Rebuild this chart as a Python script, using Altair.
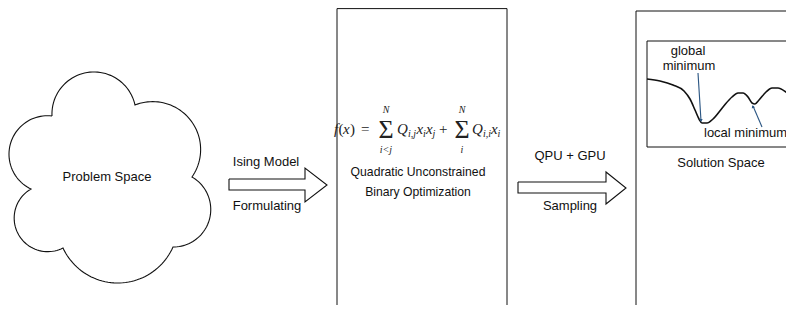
import altair as alt
import numpy as np
import pandas as pd

# ---------------- content (text) ----------------
cloud_label = ["Problem Space"]
arrow_top_labels = ["Ising Model", "QPU + GPU"]
arrow_bottom_labels = ["Formulating", "Sampling"]
box_labels = ["Quadratic Unconstrained", "Binary Optimization", "Solution Space"]
minima_labels = ["global", "minimum", "local minimum"]

# energy landscape curve inside "Solution Space" (pixel coords)
curve_x = [647, 660, 673, 684, 690, 695, 699, 702, 707, 713, 723, 732, 738, 743, 748, 752, 755, 759, 766, 772, 778, 786, 794, 802]
curve_y = [79, 81, 85, 91, 99, 110, 119, 123, 123, 119, 107, 97, 93, 93, 97, 103, 104, 100, 92, 88, 88, 92, 98, 104]

# ---------------- layout (reference pixel coordinates) ----------------
X0, X1, Y0, Y1 = 8, 786, 8, 305
W, H = X1 - X0, Y1 - Y0

# cloud: lobes between notches, each passing through an outer point
cloud_notches = [(52, 116), (135, 105), (192, 177), (173, 247), (63, 248), (31, 189)]
cloud_outer = [(92, 72), (195, 127), (210, 217), (117, 283), (20, 237), (9, 155)]

# block arrows: x0, head base, tip, shaft top, shaft bottom, head top, head bottom, tip y
arrows = [
    (229, 305, 327, 179, 190, 168, 202, 185),
    (518, 606, 626, 182, 193, 172, 204, 188),
]

boxes = pd.DataFrame({
    "x": [337, 636, 647],
    "x2": [507, 820, 820],
    "y": [8.6, 11, 41],
    "y2": [330, 330, 147],
})


def arc3(p1, p2, p3, n=48):
    (x1, y1), (x2, y2), (x3, y3) = p1, p2, p3
    d = 2 * (x1 * (y2 - y3) + x2 * (y3 - y1) + x3 * (y1 - y2))
    ux = ((x1**2 + y1**2) * (y2 - y3) + (x2**2 + y2**2) * (y3 - y1) + (x3**2 + y3**2) * (y1 - y2)) / d
    uy = ((x1**2 + y1**2) * (x3 - x2) + (x2**2 + y2**2) * (x1 - x3) + (x3**2 + y3**2) * (x2 - x1)) / d
    r = np.hypot(x1 - ux, y1 - uy)
    a1 = np.arctan2(y1 - uy, x1 - ux)
    a2 = np.arctan2(y2 - uy, x2 - ux)
    a3 = np.arctan2(y3 - uy, x3 - ux)
    tau = 2 * np.pi
    d13 = (a3 - a1) % tau
    d12 = (a2 - a1) % tau
    sweep = d13 if d12 < d13 else d13 - tau
    ang = a1 + sweep * np.linspace(0, 1, n)
    return ux + r * np.cos(ang), uy + r * np.sin(ang)


rows = []
k = 0
nn = len(cloud_notches)
for i in range(nn):
    xs_, ys_ = arc3(cloud_notches[i], cloud_outer[i], cloud_notches[(i + 1) % nn])
    for xx, yy in zip(xs_, ys_):
        rows.append({"shape": "cloud", "i": k, "x": xx, "y": yy})
        k += 1

for j, (ax0, hx, tip, sy0, sy1, hy0, hy1, ty) in enumerate(arrows):
    pts = [(ax0, sy0), (hx, sy0), (hx, hy0), (tip, ty), (hx, hy1), (hx, sy1), (ax0, sy1), (ax0, sy0)]
    for m, (xx, yy) in enumerate(pts):
        rows.append({"shape": f"arrow{j}", "i": m, "x": xx, "y": yy})
outline = pd.DataFrame(rows)

curve = pd.DataFrame({"x": curve_x, "y": curve_y, "i": range(len(curve_x))})

leaders = pd.DataFrame({
    "x": [698, 762], "y": [73, 127],
    "x2": [701, 753], "y2": [121, 106],
})
# small arrow tips at the curve end of each leader line
tips = pd.DataFrame({"x": [701, 753], "y": [120, 107], "a": [176, 337]})

labels = pd.DataFrame({
    "text": cloud_label + arrow_top_labels + arrow_bottom_labels + box_labels + minima_labels[:2],
    "x": [107, 266, 570, 267, 570, 418, 418, 721, 688, 689],
    "y": [177, 162, 156, 206, 206, 172, 192, 163, 51, 66],
    "s": [13, 13, 13, 13, 13, 12.2, 12.2, 13, 13, 13],
})
labels_left = pd.DataFrame({"text": [minima_labels[2]], "x": [704], "y": [133]})

# formula pieces: f(x) = Σ Q_{i,j} x_i x_j + Σ Q_{i,i} x_i
f_italic = pd.DataFrame({
    "text": ["f", "x", "Q", "i,j", "x", "i", "x", "j", "Q", "i,i", "x", "i"],
    "x": [334, 343, 397, 408, 416.5, 423, 426, 432.5, 472, 483, 491, 497.5],
    "y": [129, 129, 129, 134, 129, 134, 129, 134, 129, 134, 129, 134],
    "s": [15, 15, 15, 10, 15, 10, 15, 10, 15, 10, 15, 10],
})
f_upright = pd.DataFrame({
    "text": ["(", ")", "=", "+"],
    "x": [338.5, 350, 361, 439],
    "y": [129, 129, 129, 129],
    "s": [15, 15, 15, 15],
})
f_sigma = pd.DataFrame({"text": ["Σ", "Σ"], "x": [386, 462], "y": [130, 130], "s": [26, 26]})
f_limits = pd.DataFrame({
    "text": ["N", "i<j", "N", "i"],
    "x": [386, 386, 462, 462],
    "y": [110, 150, 110, 150],
    "s": [10, 10, 10, 10],
})

xs = alt.Scale(domain=[X0, X1], nice=False, zero=False)
ys = alt.Scale(domain=[Y0, Y1], nice=False, zero=False, reverse=True)
X = lambda f="x": alt.X(f"{f}:Q", scale=xs, axis=None)
Y = lambda f="y": alt.Y(f"{f}:Q", scale=ys, axis=None)

box_layer = alt.Chart(boxes).mark_rect(fillOpacity=0, stroke="#111", strokeWidth=1, clip=True).encode(
    x=X(), x2="x2:Q", y=Y(), y2="y2:Q")

outline_layer = alt.Chart(outline).mark_line(color="#111", strokeWidth=1.1, clip=True).encode(
    x=X(), y=Y(), detail="shape:N", order="i:Q")

curve_layer = alt.Chart(curve).mark_line(color="#111", strokeWidth=1.6, interpolate="monotone", clip=True).encode(
    x=X(), y=Y(), order="i:Q")

leader_layer = alt.Chart(leaders).mark_rule(color="#2b5683", strokeWidth=1.1, clip=True).encode(
    x=X(), y=Y(), x2="x2:Q", y2="y2:Q")

tip_layer = alt.Chart(tips).mark_point(shape="triangle", filled=True, size=12, color="#2b5683", opacity=1).encode(
    x=X(), y=Y(), angle=alt.Angle("a:Q", scale=None))

sans = "Liberation Sans, Helvetica, Arial, sans-serif"
serif = "Liberation Serif, Times New Roman, serif"

label_layer = alt.Chart(labels).mark_text(font=sans, color="#111", align="center", baseline="middle", clip=True).encode(
    x=X(), y=Y(), text="text:N", size=alt.Size("s:Q", scale=None, legend=None))
label_left_layer = alt.Chart(labels_left).mark_text(font=sans, fontSize=13, color="#111", align="left", baseline="middle").encode(
    x=X(), y=Y(), text="text:N")

fi = alt.Chart(f_italic).mark_text(font=serif, fontStyle="italic", color="#222", align="left", baseline="middle").encode(
    x=X(), y=Y(), text="text:N", size=alt.Size("s:Q", scale=None, legend=None))
fu = alt.Chart(f_upright).mark_text(font=serif, color="#222", align="left", baseline="middle").encode(
    x=X(), y=Y(), text="text:N", size=alt.Size("s:Q", scale=None, legend=None))
fs = alt.Chart(f_sigma).mark_text(font=serif, color="#222", align="center", baseline="middle").encode(
    x=X(), y=Y(), text="text:N", size=alt.Size("s:Q", scale=None, legend=None))
fl = alt.Chart(f_limits).mark_text(font=serif, fontStyle="italic", color="#222", align="center", baseline="middle").encode(
    x=X(), y=Y(), text="text:N", size=alt.Size("s:Q", scale=None, legend=None))

chart = alt.layer(
    box_layer, outline_layer, curve_layer, leader_layer, tip_layer,
    label_layer, label_left_layer, fi, fu, fs, fl,
).properties(
    width=W, height=H, padding=0, autosize=alt.AutoSizeParams(type="none"), background="white"
).configure_view(stroke=None)

chart.save("out.html", embed_options={"renderer": "svg", "actions": False})
